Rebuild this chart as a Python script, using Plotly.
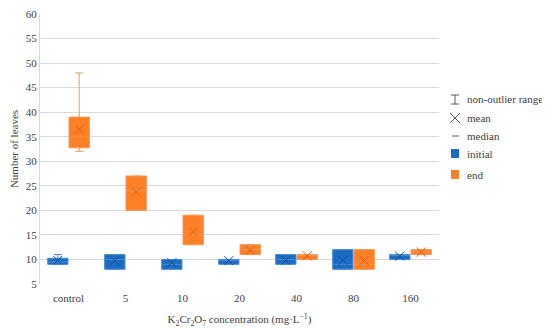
import plotly.graph_objects as go

categories = ["control", "5", "10", "20", "40", "80", "160"]

init_lower = [9, 8, 8, 9, 9, 8, 10]
init_q1 = [9, 8, 8, 9, 9, 8, 10]
init_median = [9.5, 10, 9, 10, 10, 9, 11]
init_q3 = [10.25, 11, 10, 10, 11, 12, 11]
init_upper = [11, 11, 10, 10, 11, 12, 11]
init_mean = [9.8, 9.75, 9.33, 9.75, 9.8, 9.8, 10.67]

end_lower = [32, 20, 13, 11, 10, 8, 11]
end_q1 = [32.75, 20, 13, 11, 10, 8, 11]
end_median = [35, 24, 15, 12, 11, 9, 11.5]
end_q3 = [39, 27, 19, 13, 11, 12, 12]
end_upper = [48, 27, 19, 13, 11, 12, 12]
end_mean = [36.5, 23.75, 15.67, 11.83, 10.75, 9.8, 11.5]

y_ticks = list(range(5, 61, 5))

BLUE_FILL = "rgb(28,108,196)"
BLUE_LINE = "rgb(70,140,215)"
BLUE_DARK = "rgb(20,80,150)"
ORANGE_FILL = "rgb(253,128,38)"
ORANGE_LINE = "rgb(247,150,80)"
ORANGE_DARK = "rgb(215,95,20)"
FONT = "Liberation Serif"
TXT = "#404040"

fig = go.Figure()

fig.add_trace(go.Box(
    x=categories, q1=init_q1, median=init_median, q3=init_q3,
    lowerfence=init_lower, upperfence=init_upper,
    fillcolor=BLUE_FILL, line=dict(color=BLUE_LINE, width=1),
    whiskerwidth=0.4, name="initial", offsetgroup="a",
    showlegend=False, hoverinfo="skip",
))
fig.add_trace(go.Box(
    x=categories, q1=end_q1, median=end_median, q3=end_q3,
    lowerfence=end_lower, upperfence=end_upper,
    fillcolor=ORANGE_FILL, line=dict(color=ORANGE_LINE, width=1),
    whiskerwidth=0.4, name="end", offsetgroup="b",
    showlegend=False, hoverinfo="skip",
))

fig.add_trace(go.Scatter(
    x=categories, y=init_mean, mode="markers",
    marker=dict(symbol="x-thin", size=9, line=dict(color=BLUE_DARK, width=1)),
    offsetgroup="a", showlegend=False, hoverinfo="skip",
))
fig.add_trace(go.Scatter(
    x=categories, y=end_mean, mode="markers",
    marker=dict(symbol="x-thin", size=9, line=dict(color=ORANGE_DARK, width=1)),
    offsetgroup="b", showlegend=False, hoverinfo="skip",
))

# the page body adds an 8px offset, so margins compensate for it
PLOT_TOP = 14  # page pixel of the top gridline (leaves room for the "60" label)
fig.update_layout(
    width=550, height=330,
    margin=dict(l=32, r=119, t=PLOT_TOP - 8, b=54),
    paper_bgcolor="white", plot_bgcolor="white",
    boxmode="group", boxgap=0.25, boxgroupgap=0.05,
    scattermode="group", scattergap=0.25,
    font=dict(family=FONT, size=11, color=TXT),
    showlegend=False,
)
fig.update_xaxes(
    type="category", categoryorder="array", categoryarray=categories,
    showgrid=False, showline=False, ticks="", automargin=False,
    ticklabelstandoff=6,
    tickfont=dict(family=FONT, size=11, color=TXT),
    title=dict(text="K<sub>2</sub>Cr<sub>2</sub>O<sub>7</sub> concentration (mg·L<sup>−1</sup>)",
               font=dict(family=FONT, size=11, color=TXT), standoff=12),
)
fig.update_yaxes(
    range=[5, 60], tickvals=y_ticks, showgrid=True, gridcolor="#d9d9d9", gridwidth=1,
    zeroline=False, showline=True, linecolor="#d9d9d9", ticks="", automargin=False,
    ticklabeloverflow="allow",
    tickfont=dict(family=FONT, size=11, color=TXT),
    title=dict(text="Number of leaves", font=dict(family=FONT, size=11, color=TXT), standoff=10),
)

# manual legend (coordinates in page pixels, converted to paper units)
L, T, R, B = 40, PLOT_TOP, 439, 284
W, H = R - L, B - T
def px(x):
    return (x - L) / W
def py(y):
    return (B - y) / H

g = "#595959"
legend_shapes = [
    dict(x0=455, y0=95, x1=455, y1=104),
    dict(x0=451, y0=95, x1=459, y1=95),
    dict(x0=451, y0=104, x1=459, y1=104),
    dict(x0=450, y0=113, x1=460, y1=123),
    dict(x0=450, y0=123, x1=460, y1=113),
    dict(x0=452, y0=136, x1=459, y1=136),
]
for s in legend_shapes:
    fig.add_shape(type="line", xref="paper", yref="paper",
                  x0=px(s["x0"]), y0=py(s["y0"]), x1=px(s["x1"]), y1=py(s["y1"]),
                  line=dict(color=g, width=1))
fig.add_shape(type="rect", xref="paper", yref="paper",
              x0=px(451), y0=py(149), x1=px(459), y1=py(158),
              fillcolor=BLUE_FILL, line=dict(width=0))
fig.add_shape(type="rect", xref="paper", yref="paper",
              x0=px(451), y0=py(170), x1=px(459), y1=py(179),
              fillcolor=ORANGE_FILL, line=dict(width=0))
for label, yy in [("non-outlier range", 99), ("mean", 118), ("median", 136),
                  ("initial", 154), ("end", 175)]:
    fig.add_annotation(text=label, xref="paper", yref="paper", x=px(465), y=py(yy),
                       xanchor="left", yanchor="middle", showarrow=False,
                       font=dict(family=FONT, size=11, color=TXT))

fig.write_html("out.html")
